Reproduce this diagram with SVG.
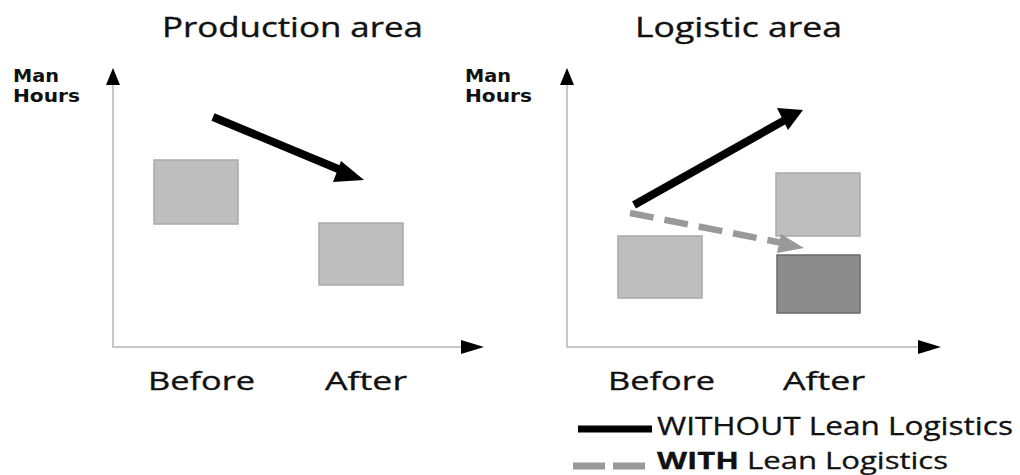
<svg xmlns="http://www.w3.org/2000/svg" width="1020" height="475" viewBox="0 0 1020 475">
<style>
.title{font-family:"Open Sans","Liberation Sans",sans-serif;font-size:26.5px;fill:#111;stroke:#111;stroke-width:0.35}
.ylab{font-family:"DejaVu Sans","Liberation Sans",sans-serif;font-size:17.5px;font-weight:bold;fill:#111}
.xlab{font-family:"Open Sans","Liberation Sans",sans-serif;font-size:25px;fill:#111;stroke:#111;stroke-width:0.35}
.leg{font-family:"Open Sans","Liberation Sans",sans-serif;font-size:25px;fill:#111;stroke:#111;stroke-width:0.3}
.leg2{font-family:"Open Sans","Liberation Sans",sans-serif;font-size:23.5px;fill:#111;stroke:#111;stroke-width:0.3}
.axis{stroke:#c8c8c8;stroke-width:2;fill:none}
.box{fill:#bebebe;stroke:#a9a9a9;stroke-width:1.5}
.dark{fill:#8c8c8c;stroke:#6a6a6a;stroke-width:1.5}
.solid{stroke:#000;stroke-width:8;fill:none}
.dash{stroke:#999;stroke-width:6.5;fill:none;stroke-dasharray:24 11}
</style>
<rect width="1020" height="475" fill="#fff"/>
<g id="titles">
<text class="title" x="162" y="37" textLength="261" lengthAdjust="spacingAndGlyphs">Production area</text>
<text class="title" x="635" y="37" textLength="207" lengthAdjust="spacingAndGlyphs">Logistic area</text>
</g>
<g id="axes">
<path class="axis" d="M113,82 V347 H468"/>
<path d="M113,68 L106,85 L120,85 Z" fill="#000"/>
<path d="M484,347 L461,340 L461,354 Z" fill="#000"/>
<path class="axis" d="M567,82 V347 H925"/>
<path d="M567,68 L560,85 L574,85 Z" fill="#000"/>
<path d="M941,347 L918,340 L918,354 Z" fill="#000"/>
<text class="ylab" x="13" y="82" textLength="46" lengthAdjust="spacingAndGlyphs">Man</text>
<text class="ylab" x="13" y="102" textLength="67" lengthAdjust="spacingAndGlyphs">Hours</text>
<text class="ylab" x="465" y="82" textLength="46" lengthAdjust="spacingAndGlyphs">Man</text>
<text class="ylab" x="465" y="102" textLength="67" lengthAdjust="spacingAndGlyphs">Hours</text>
<text class="xlab" x="148" y="390" textLength="107" lengthAdjust="spacingAndGlyphs">Before</text>
<text class="xlab" x="325" y="390" textLength="82" lengthAdjust="spacingAndGlyphs">After</text>
<text class="xlab" x="608" y="390" textLength="107" lengthAdjust="spacingAndGlyphs">Before</text>
<text class="xlab" x="783" y="390" textLength="82" lengthAdjust="spacingAndGlyphs">After</text>
</g>
<g id="prod-before"><rect class="box" x="154" y="160" width="84" height="64"/></g>
<g id="prod-after"><rect class="box" x="319" y="223" width="84" height="62"/></g>
<g id="log-before"><rect class="box" x="618" y="236" width="84" height="62"/></g>
<g id="log-after-without"><rect class="box" x="776" y="173" width="84" height="63"/></g>
<g id="log-after-with"><rect class="dark" x="777" y="255" width="83" height="58"/></g>
<g id="connectors">
<line class="solid" x1="213" y1="117" x2="343" y2="171"/>
<path d="M364,180 L341,161 L333,182 Z" fill="#000"/>
<line class="solid" x1="634" y1="205" x2="785" y2="120"/>
<path d="M803,110 L777,108 L788,130 Z" fill="#000"/>
<line class="dash" x1="630" y1="213" x2="783" y2="243"/>
<path d="M804,248 L781,234 L777,253 Z" fill="#999"/>
</g>
<g id="legend">
<line x1="578" y1="429" x2="652" y2="429" stroke="#000" stroke-width="7"/>
<text class="leg" x="657" y="435" textLength="356" lengthAdjust="spacingAndGlyphs">WITHOUT Lean Logistics</text>
<line x1="573" y1="466" x2="645" y2="466" stroke="#999" stroke-width="7" stroke-dasharray="32 8"/>
<text class="leg2" x="657" y="469" textLength="291" lengthAdjust="spacingAndGlyphs"><tspan font-weight="bold">WITH</tspan> Lean Logistics</text>
</g>
</svg>
